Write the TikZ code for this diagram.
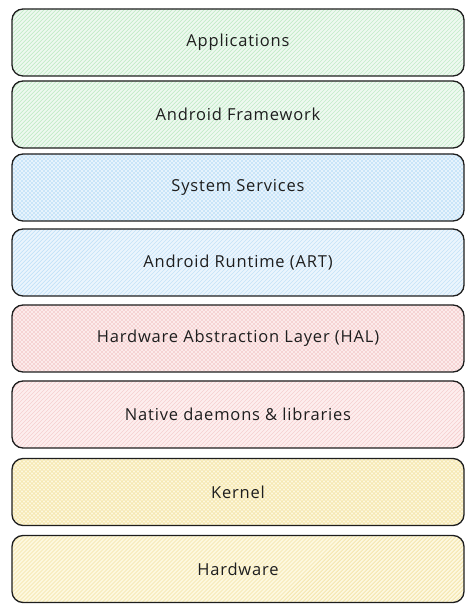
\documentclass[tikz,border=0pt]{standalone}
\usepackage{fontspec}
\setmainfont{Open Sans}[LetterSpace=5]
\usetikzlibrary{calc}
\definecolor{stroke}{HTML}{1E1E1E}
\definecolor{greenbg}{HTML}{EEF9F0}
\definecolor{greenln}{HTML}{C2EBC8}
\definecolor{bluebg}{HTML}{EBF5FD}
\definecolor{blueln}{HTML}{C3E2F8}
\definecolor{redbg}{HTML}{FDEEEE}
\definecolor{redln}{HTML}{F5CFCF}
\definecolor{yellowbg}{HTML}{FDF8DF}
\definecolor{yellowln}{HTML}{F3E3A6}
\tikzset{
  layer/.style={draw=stroke, line width=1.3pt, rounded corners=11pt,
    minimum width=452pt, minimum height=67pt, inner sep=0pt,
    font=\fontsize{16.5}{19}\selectfont, text=stroke},
  hatch/.style 2 args={fill=#1, path picture={
    \coordinate (sw) at (path picture bounding box.south west);
    \foreach \i in {-72,-68,...,460} \draw[#2, line width=0.7pt] ($(sw)+(\i pt,-2pt)$) -- ++(75pt,75pt);
  }},
  cross/.style 2 args={fill=#1, path picture={
    \coordinate (sw) at (path picture bounding box.south west);
    \coordinate (se) at (path picture bounding box.south east);
    \foreach \i in {-72,-68,...,460} \draw[#2, line width=0.6pt] ($(sw)+(\i pt,-2pt)$) -- ++(75pt,75pt);
    \foreach \i in {-72,-68,...,460} \draw[#2, line width=0.6pt] ($(se)+(-\i pt,-2pt)$) -- ++(-75pt,75pt);
  }}
}
\begin{document}
\begin{tikzpicture}[x=1pt,y=1pt]
\useasboundingbox (0,0) rectangle (474,612);
\node[layer, hatch={greenbg}{greenln}] (l1) at (238,{612-42.5}) {Applications};
\node[layer, hatch={greenbg}{greenln}] (l2) at (238,{612-114.5}) {Android Framework};
\node[layer, cross={bluebg}{blueln}] (l3) at (238,{612-187.5}) {System Services};
\node[layer, hatch={bluebg}{blueln}] (l4) at (238,{612-262.5}) {Android Runtime (ART)};
\node[layer, cross={redbg}{redln}] (l5) at (238,{612-338.5}) {Hardware Abstraction Layer (HAL)};
\node[layer, hatch={redbg}{redln}] (l6) at (238,{612-414.5}) {Native daemons \& libraries};
\node[layer, cross={yellowbg}{yellowln}] (l7) at (238,{612-492}) {Kernel};
\node[layer, hatch={yellowbg}{yellowln}] (l8) at (238,{612-569}) {Hardware};
\end{tikzpicture}
\end{document}
